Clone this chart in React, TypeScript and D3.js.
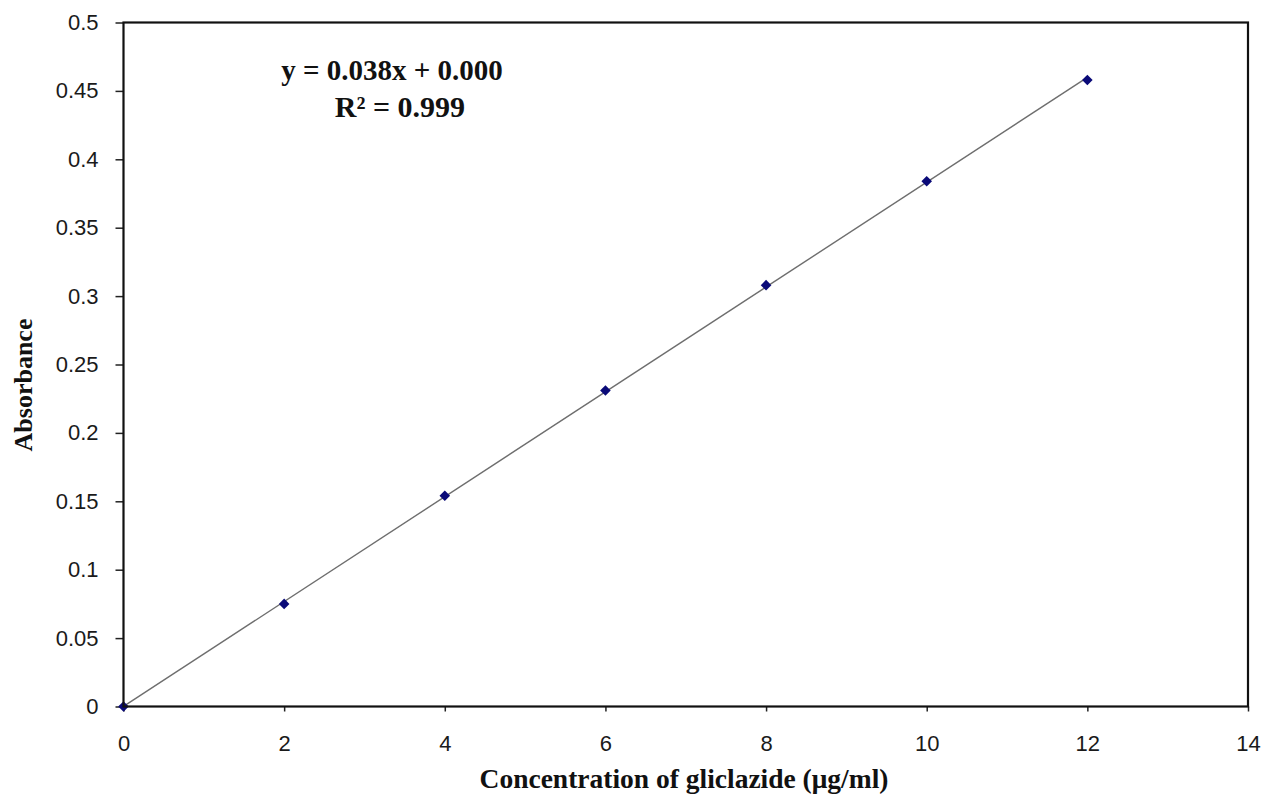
import React, { useEffect, useRef } from "react"
import * as d3 from "d3"

/** Calibration data */
const concentrations = [0, 2, 4, 6, 8, 10, 12]
const absorbances = [0, 0.075, 0.154, 0.231, 0.308, 0.384, 0.458]
const xTicks = [0, 2, 4, 6, 8, 10, 12, 14]
const yTicks = [0, 0.05, 0.1, 0.15, 0.2, 0.25, 0.3, 0.35, 0.4, 0.45, 0.5]
const equationText = "y = 0.038x + 0.000"
const r2Text = "R² = 0.999"
const xTitle = "Concentration of gliclazide (μg/ml)"
const yTitle = "Absorbance"

export default function App() {
	/** Chart dimensions */
	const width = 1264
	const height = 796
	const left = 123.5
	const right = 1248
	const top = 22.5
	const bottom = 706.5

	const xScale = d3.scaleLinear().domain([0, 14]).range([left, right])
	const yScale = d3.scaleLinear().domain([0, 0.5]).range([bottom, top])

	/** least squares trend line through the points */
	const mx = d3.mean(concentrations)
	const my = d3.mean(absorbances)
	const slope = d3.sum(concentrations, (c, i) => (c - mx) * (absorbances[i] - my)) /
		d3.sum(concentrations, c => (c - mx) ** 2)
	const intercept = my - slope * mx
	const fitX = d3.extent(concentrations)
	const trendPath = d3.line()
		.x(d => xScale(d))
		.y(d => yScale(intercept + slope * d))(fitX)

	const xAxisRef = useRef()
	const yAxisRef = useRef()
	useEffect(() => {
		const tickFont = "Liberation Sans, Arial, sans-serif"
		const xAxis = d3.axisBottom(xScale).tickValues(xTicks).tickSize(5).tickPadding(24).tickFormat(d3.format("d"))
		const xg = d3.select(xAxisRef.current).call(xAxis)
		xg.select(".domain").remove()
		xg.selectAll("line").attr("stroke", "#222").attr("stroke-width", 1.5)
		xg.selectAll("text").attr("font-family", tickFont).attr("font-size", 22).attr("fill", "#1a1a1a")

		const yAxis = d3.axisLeft(yScale).tickValues(yTicks).tickSize(8).tickPadding(17).tickFormat(d => String(+d.toFixed(2)))
		const yg = d3.select(yAxisRef.current).call(yAxis)
		yg.select(".domain").remove()
		yg.selectAll("line").attr("stroke", "#222").attr("stroke-width", 1.5)
		yg.selectAll("text").attr("font-family", tickFont).attr("font-size", 22).attr("fill", "#1a1a1a")
	}, [])

	/** square turned 45 degrees, as in the spreadsheet marker */
	const marker = d3.symbol().type(d3.symbolSquare).size(56)()

	return (
		<svg width={width} height={height} style={{ position: "absolute", left: 0, top: 0, background: "#fff" }}>
			<g ref={xAxisRef} transform={`translate(0, ${bottom})`} />
			<g ref={yAxisRef} transform={`translate(${left}, 0)`} />
			<path d={trendPath} stroke="#6e6e6e" strokeWidth={1.4} fill="none" />
			{concentrations.map((c, i) => (
				<path key={c} d={marker} transform={`translate(${xScale(c)}, ${yScale(absorbances[i])}) rotate(45)`} fill="#0a0a78" />
			))}
			<rect x={left} y={top} width={right - left} height={bottom - top} fill="none" stroke="#111" strokeWidth={2.2} />
			<g fontFamily="Liberation Serif, Times New Roman, serif" fontWeight="bold" fill="#111">
				<text x={392} y={80} fontSize={29} textAnchor="middle">{equationText}</text>
				<text x={400} y={117} fontSize={30} textAnchor="middle">{r2Text}</text>
				<text x={684} y={788} fontSize={27.5} textAnchor="middle">{xTitle}</text>
				<text transform={`translate(32, 385) rotate(-90)`} fontSize={26} textAnchor="middle">{yTitle}</text>
			</g>
		</svg>
	)
}
